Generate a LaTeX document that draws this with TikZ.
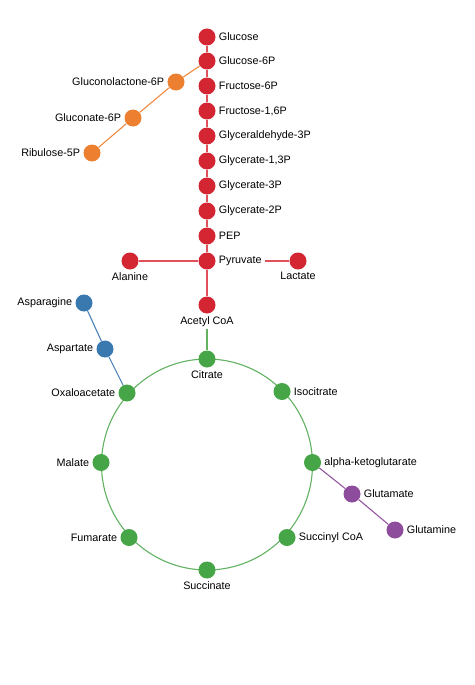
\documentclass[tikz,border=0pt]{standalone}
\usepackage{fontspec}
\setmainfont{Liberation Sans}
\usetikzlibrary{calc}
\definecolor{cred}{HTML}{D42532}
\definecolor{corange}{HTML}{EC8030}
\definecolor{cblue}{HTML}{3A78B0}
\definecolor{cgreen}{HTML}{46A546}
\definecolor{cpurple}{HTML}{8E4C9C}
\definecolor{lred}{HTML}{E0505A}
\definecolor{lorange}{HTML}{EE8A40}
\definecolor{lblue}{HTML}{4A82B8}
\definecolor{lgreen}{HTML}{62B262}
\definecolor{lpurple}{HTML}{9458A2}
\begin{document}
\begin{tikzpicture}[x=1pt,y=-1pt,
  dot/.style={circle,fill=#1,minimum size=17pt,inner sep=0pt},
  lbl/.style={font=\fontsize{10.8}{13}\selectfont,inner sep=1pt},
  rl/.style={lbl,anchor=west,xshift=2pt},
  ll/.style={lbl,anchor=east,xshift=-2pt},
  bl/.style={lbl,anchor=north,yshift=-1.5pt},
  conn/.style={draw=#1,line width=1.1pt}
]
\useasboundingbox (0,0) rectangle (474,685);
\coordinate (tca) at (207,464.5);
% connectors first (behind the dots)
\draw[conn=lgreen] (tca) circle[radius=105.5];
% glycolysis nodes
\node[dot=cred] (glc) at (207,37) {};
\node[dot=cred] (g6p) at (207,61) {};
\node[dot=cred] (f6p) at (207,86) {};
\node[dot=cred] (fbp) at (207,111) {};
\node[dot=cred] (gap) at (207,136) {};
\node[dot=cred] (bpg) at (207,161) {};
\node[dot=cred] (p3g) at (207,186) {};
\node[dot=cred] (p2g) at (207,211) {};
\node[dot=cred] (pep) at (207,236) {};
\node[dot=cred] (pyr) at (207,261) {};
\node[dot=cred] (ala) at (130,261) {};
\node[dot=cred] (lac) at (298,261) {};
\node[dot=cred] (acoa) at (207,305) {};
% pentose phosphate
\node[dot=corange] (glac) at (176,82) {};
\node[dot=corange] (gnt) at (133,118) {};
\node[dot=corange] (ru5p) at (92,153) {};
% TCA
\node[dot=cgreen] (cit) at ($(tca)+(0,-105.5)$) {};
\node[dot=cgreen] (icit) at ($(tca)+(75,-73)$) {};
\node[dot=cgreen] (akg) at ($(tca)+(105.5,-2)$) {};
\node[dot=cgreen] (sca) at ($(tca)+(80,73)$) {};
\node[dot=cgreen] (suc) at ($(tca)+(0,105.5)$) {};
\node[dot=cgreen] (fum) at ($(tca)+(-78,73)$) {};
\node[dot=cgreen] (mal) at ($(tca)+(-106,-2)$) {};
\node[dot=cgreen] (oaa) at ($(tca)+(-80,-71.5)$) {};
% amino acids
\node[dot=cblue] (asn) at (84,303) {};
\node[dot=cblue] (asp) at (105,349) {};
\node[dot=cpurple] (glu) at (352,494) {};
\node[dot=cpurple] (gln) at (395,530) {};
% connectors between nodes
\draw[conn=lred] (glc) -- (g6p);
\draw[conn=lred] (g6p) -- (f6p);
\draw[conn=lred] (f6p) -- (fbp);
\draw[conn=lred] (fbp) -- (gap);
\draw[conn=lred] (gap) -- (bpg);
\draw[conn=lred] (bpg) -- (p3g);
\draw[conn=lred] (p3g) -- (p2g);
\draw[conn=lred] (p2g) -- (pep);
\draw[conn=lred] (pep) -- (pyr);
\draw[conn=lred] (pyr) -- (acoa);
\draw[conn=lred] (ala) -- (pyr);
\draw[conn=lred] (pyr) -- (lac);
\draw[conn=lorange] (g6p) -- (glac) -- (gnt) -- (ru5p);
\draw[conn=lblue] (asn) -- (asp) -- (oaa);
\draw[conn=lpurple] (akg) -- (glu) -- (gln);
\draw[conn=lgreen] (acoa) -- (cit);
% labels
\node[rl] (lglc) at (glc.east) {Glucose};
\node[rl] (lg6p) at (g6p.east) {Glucose-6P};
\node[rl] (lf6p) at (f6p.east) {Fructose-6P};
\node[rl] (lfbp) at (fbp.east) {Fructose-1,6P};
\node[rl] (lgap) at (gap.east) {Glyceraldehyde-3P};
\node[rl] (lbpg) at (bpg.east) {Glycerate-1,3P};
\node[rl] (lp3g) at (p3g.east) {Glycerate-3P};
\node[rl] (lp2g) at (p2g.east) {Glycerate-2P};
\node[rl] (lpep) at (pep.east) {PEP};
\node[lbl,anchor=west,fill=white,inner xsep=3pt] (lpyr) at (pyr.east) {Pyruvate};
\node[bl] (lala) at (ala.south) {Alanine};
\node[bl] (llac) at (lac.south) {Lactate};
\node[lbl,anchor=north,fill=white,inner ysep=2.5pt] (lacoa) at (acoa.south) {Acetyl CoA};
\node[ll] (lglac) at (glac.west) {Gluconolactone-6P};
\node[ll] (lgnt) at (gnt.west) {Gluconate-6P};
\node[ll] (lru5p) at (ru5p.west) {Ribulose-5P};
\node[bl] (lcit) at (cit.south) {Citrate};
\node[rl] (licit) at (icit.east) {Isocitrate};
\node[rl] (lakg) at (akg.east) {alpha-ketoglutarate};
\node[rl] (lsca) at (sca.east) {Succinyl CoA};
\node[bl] (lsuc) at (suc.south) {Succinate};
\node[ll] (lfum) at (fum.west) {Fumarate};
\node[ll] (lmal) at (mal.west) {Malate};
\node[ll] (loaa) at (oaa.west) {Oxaloacetate};
\node[ll] (lasn) at (asn.west) {Asparagine};
\node[ll] (lasp) at (asp.west) {Aspartate};
\node[rl] (lglu) at (glu.east) {Glutamate};
\node[rl] (lgln) at (gln.east) {Glutamine};
\end{tikzpicture}
\end{document}
